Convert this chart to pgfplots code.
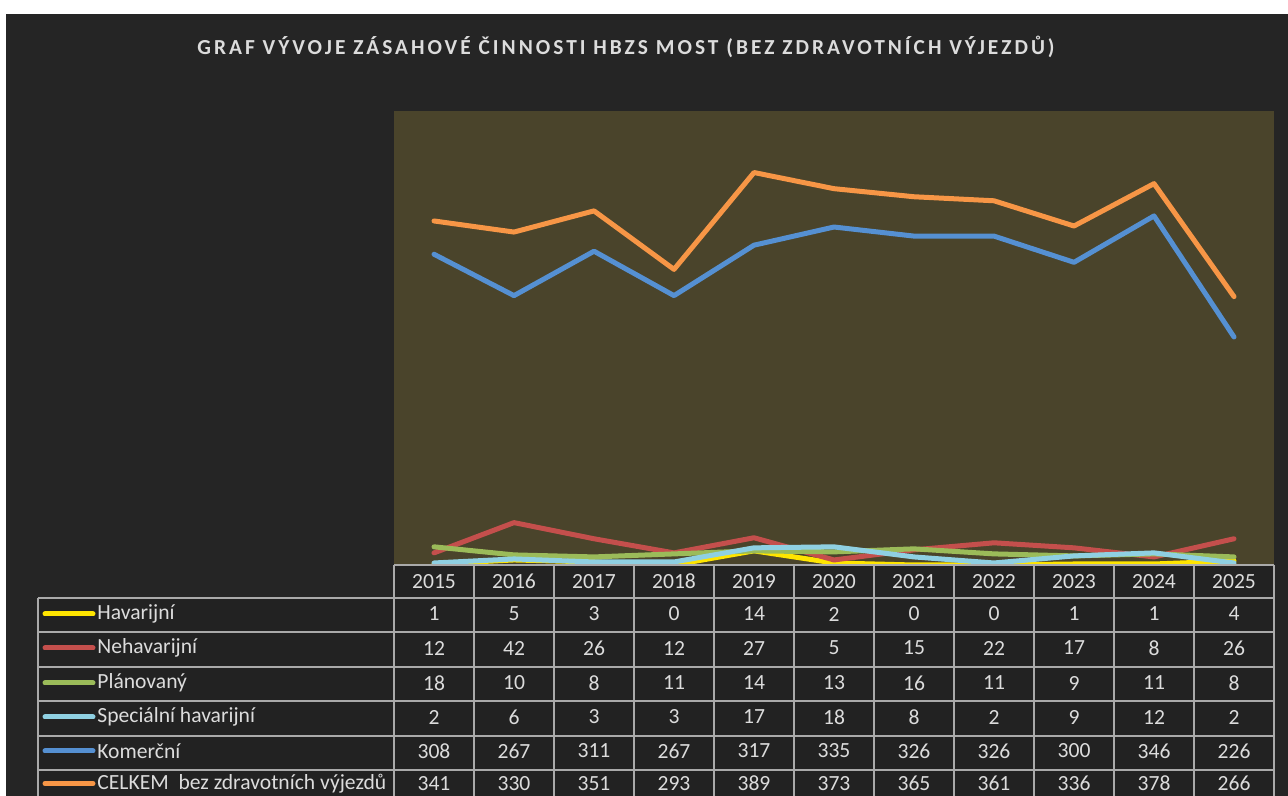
\documentclass[border=0pt]{standalone}
\usepackage{pgfplots}
\pgfplotsset{compat=1.18}
\usepackage{fontspec}
\setmainfont{Carlito}
\newfontfamily\titlefont[LetterSpace=14]{Carlito Bold}
\definecolor{bgc}{RGB}{37,37,37}
\definecolor{cellc}{RGB}{34,34,34}
\definecolor{olivec}{RGB}{74,68,43}
\definecolor{gridc}{RGB}{170,170,170}
\definecolor{txtc}{RGB}{220,220,220}
\definecolor{cY}{HTML}{FFE500}
\definecolor{cR}{HTML}{C44F4C}
\definecolor{cG}{HTML}{9BBB59}
\definecolor{cC}{HTML}{8FD0E2}
\definecolor{cB}{HTML}{5590D2}
\definecolor{cO}{HTML}{F79646}
\begin{document}
\begin{tikzpicture}[x=0.5pt,y=0.5pt]
\clip (0,0) rectangle (1288,796);
\fill[white] (0,0) rectangle (1288,796);
\fill[bgc] (6,0) rectangle (1288,782);
\node[text=txtc, font=\titlefont\fontsize{10.7}{12}\selectfont] at (626,749) {GRAF VÝVOJE ZÁSAHOVÉ ČINNOSTI HBZS MOST (BEZ ZDRAVOTNÍCH VÝJEZDŮ)};
\fill[olivec] (394,231) rectangle (1274,685);
\begin{axis}[at={(394pt*0.5,231pt*0.5)}, anchor=south west, scale only axis,
  width=440pt, height=227pt, xmin=2014.5, xmax=2025.5, ymin=0, ymax=450,
  axis line style={draw=none}, ticks=none, clip=false,
  every axis plot/.append style={line width=2.5pt, line cap=round, line join=round}]
\addplot[cY] coordinates {(2015,1)(2016,5)(2017,3)(2018,0)(2019,14)(2020,2)(2021,0)(2022,0)(2023,1)(2024,1)(2025,4)};
\addplot[cR] coordinates {(2015,12)(2016,42)(2017,26)(2018,12)(2019,27)(2020,5)(2021,15)(2022,22)(2023,17)(2024,8)(2025,26)};
\addplot[cG] coordinates {(2015,18)(2016,10)(2017,8)(2018,11)(2019,14)(2020,13)(2021,16)(2022,11)(2023,9)(2024,11)(2025,8)};
\addplot[cC] coordinates {(2015,2)(2016,6)(2017,3)(2018,3)(2019,17)(2020,18)(2021,8)(2022,2)(2023,9)(2024,12)(2025,2)};
\addplot[cB] coordinates {(2015,308)(2016,267)(2017,311)(2018,267)(2019,317)(2020,335)(2021,326)(2022,326)(2023,300)(2024,346)(2025,226)};
\addplot[cO] coordinates {(2015,341)(2016,330)(2017,351)(2018,293)(2019,389)(2020,373)(2021,365)(2022,361)(2023,336)(2024,378)(2025,266)};
\end{axis}
% table
\fill[cellc] (394,231) rectangle (1274,198);
\fill[cellc] (38,198) rectangle (1274,-20);
\draw[gridc, line width=1pt] (394,231) -- (1274,231);
\foreach \yy in {198,163.5,129,94.5,60,25.5} \draw[gridc, line width=1pt] (38,\yy) -- (1274,\yy);
\foreach \k in {0,...,11} \draw[gridc, line width=1pt] (394+80*\k,231) -- (394+80*\k,-20);
\draw[gridc, line width=1pt] (38,198) -- (38,-20);
\begin{scope}[every node/.style={text=txtc, font=\fontsize{10.8}{12}\selectfont}]
\foreach \v [count=\i from 0] in {2015,2016,2017,2018,2019,2020,2021,2022,2023,2024,2025} \node at (434+80*\i,214.5) {\v};
\foreach \v [count=\i from 0] in {1,5,3,0,14,2,0,0,1,1,4} \node at (434+80*\i,182) {\v};
\foreach \v [count=\i from 0] in {12,42,26,12,27,5,15,22,17,8,26} \node at (434+80*\i,148) {\v};
\foreach \v [count=\i from 0] in {18,10,8,11,14,13,16,11,9,11,8} \node at (434+80*\i,113) {\v};
\foreach \v [count=\i from 0] in {2,6,3,3,17,18,8,2,9,12,2} \node at (434+80*\i,79) {\v};
\foreach \v [count=\i from 0] in {308,267,311,267,317,335,326,326,300,346,226} \node at (434+80*\i,45) {\v};
\foreach \v [count=\i from 0] in {341,330,351,293,389,373,365,361,336,378,266} \node at (434+80*\i,12.5) {\v};
\foreach \c/\t/\yy in {cY/Havarijní/182, cR/Nehavarijní/148, cG/Plánovaný/113, cC/Speciální havarijní/79, cB/Komerční/45, cO/CELKEM\ \ bez zdravotních výjezdů/12.5} {
  \draw[\c, line width=2.5pt, line cap=round] (45,\yy) -- (93,\yy);
  \node[anchor=west, inner sep=0pt] at (97,\yy) {\t};
}
\end{scope}
\end{tikzpicture}
\end{document}
